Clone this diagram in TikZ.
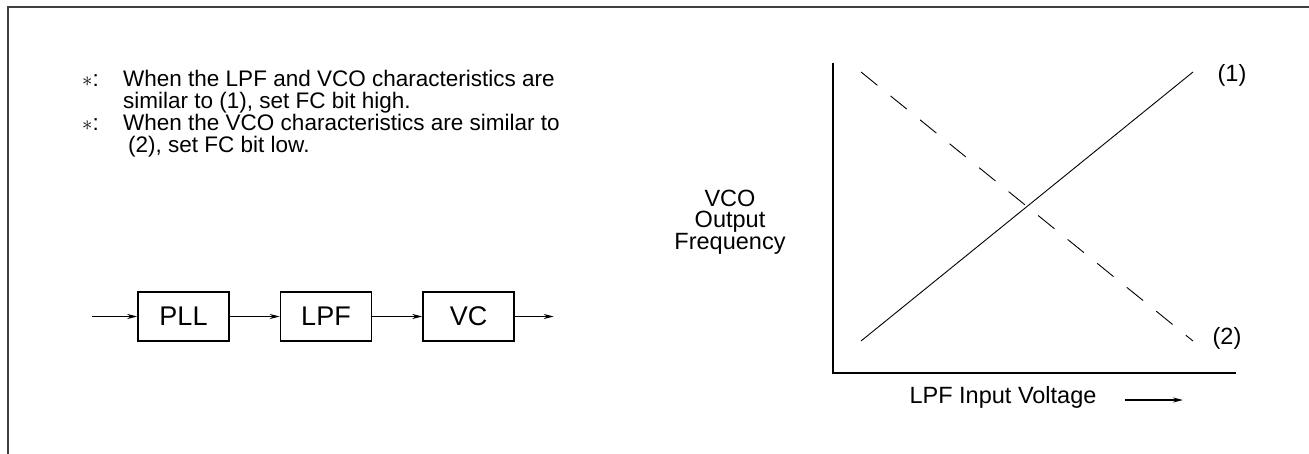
\documentclass[tikz,border=0pt]{standalone}
\usepackage{fontspec}
\setmainfont{Liberation Sans}
\usepackage{tikz}
\usetikzlibrary{positioning,arrows.meta}

\begin{document}
\begin{tikzpicture}[x=1pt,y=-1pt,>={Stealth[length=10pt,width=5pt]},
                    node distance=50pt]
  \tikzset{block/.style={draw,line width=1.5pt,minimum width=91pt,
             minimum height=49pt,inner sep=0pt,
             font=\fontsize{27}{29}\selectfont},
           note/.style={anchor=base west,inner sep=0pt,
             font=\fontsize{22.5}{21.7}\selectfont},
           lbl/.style={inner sep=0pt,font=\fontsize{23.5}{21.7}\selectfont},
           link/.style={->,line width=1.5pt}}
  \useasboundingbox (0,0) rectangle (1309,454);

  % frame
  \draw[line width=1.8pt,black!75] (8,454) |- (1309,7);

  % notes
  \node[note] (s1) at (82,87)    {$\ast$:};
  \node[note] (n1) at (123,87)   {When the LPF and VCO characteristics are};
  \node[note] (n1b) at (123,108.7) {similar to (1), set FC bit high.};
  \node[note] (s2) at (82,130.4) {$\ast$:};
  \node[note] (n2) at (123,130.4) {When the VCO characteristics are similar to};
  \node[note] (n2b) at (128,152.1) {(2), set FC bit low.};

  % block diagram
  \node[block]              (pll) at (183.5,316.5) {PLL};
  \node[block,right=of pll] (lpf) {LPF};
  \node[block,right=of lpf] (vc)  {VC};
  \coordinate[left=45pt of pll.west] (in);
  \coordinate[right=39pt of vc.east] (out);

  \draw[link] (in) -- (pll);
  \draw[link] (pll) -- (lpf);
  \draw[link] (lpf) -- (vc);
  \draw[link] (vc) -- (out);

  % graph
  \coordinate (ytop) at (833,63);
  \coordinate (xend) at (1236,373);
  \draw[line width=1.5pt] (ytop) |- (xend);

  \coordinate (a1) at (861,341);
  \coordinate (b1) at (1193,72);
  \coordinate (a2) at (861,72);
  \coordinate (b2) at (1193,341);
  \draw[line width=0.9pt] (a1) -- (b1);
  \draw[line width=0.9pt,dash pattern=on 21pt off 17pt] (a2) -- (b2);

  \node[lbl] (c1) at (1232,75) {(1)};
  \node[lbl] (c2) at (1227,338) {(2)};
  \node[lbl,align=center] (ylbl) at (730,222) {VCO\\Output\\Frequency};
  \node[lbl] (xlbl) at (1003,397) {LPF Input Voltage};
  \coordinate (r1) at (1125,400);
  \coordinate (r2) at (1183,400);
  \draw[link] (r1) -- (r2);
\end{tikzpicture}
\end{document}
